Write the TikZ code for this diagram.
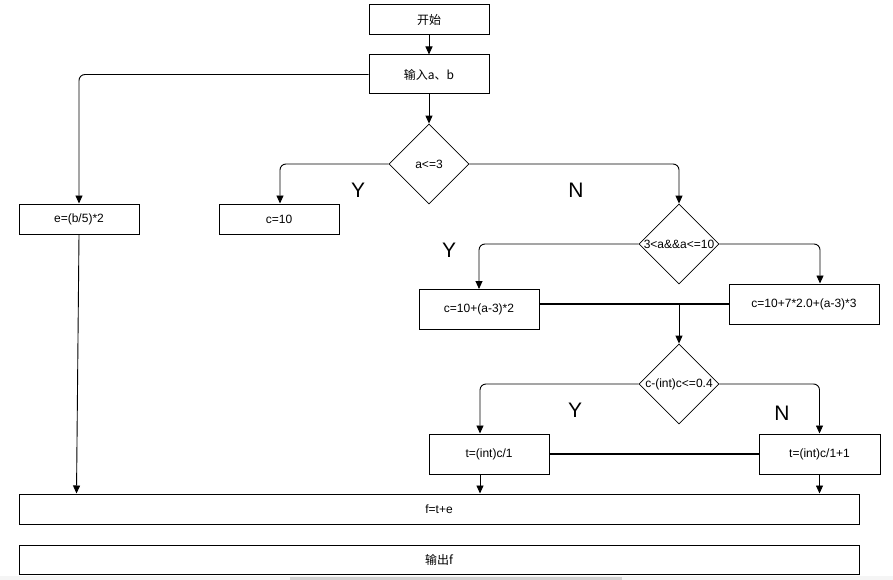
\documentclass[tikz,border=0pt]{standalone}
\usepackage{fontspec}
\setmainfont{Liberation Sans}
\newfontfamily\cjk{Noto Sans CJK SC}
\usetikzlibrary{shapes.geometric,arrows.meta}
\begin{document}
\begin{tikzpicture}[x=1pt,y=-1pt,
  box/.style={draw,line width=1pt,rectangle,inner sep=0pt,font=\fontsize{12}{14}\selectfont},
  dia/.style={draw,line width=0.8pt,diamond,inner sep=0pt,minimum width=80pt,minimum height=80pt},
  dtext/.style={font=\fontsize{12}{14}\selectfont,inner sep=0pt},
  arr/.style={draw,line width=0.9pt,-{Triangle[width=7pt,length=8pt]}},
  conn/.style={draw,line width=0.9pt,rounded corners=6pt,-{Triangle[width=7pt,length=8pt]}},
  thick line/.style={draw,line width=2pt},
  yn/.style={font=\fontsize{21}{23}\selectfont,inner sep=0pt}]
\useasboundingbox (0,0) rectangle (893,580);
\fill[gray!8] (0,576) rectangle (893,580);
\fill[gray!35] (290,577) rectangle (622,580);
% nodes
\node[box,minimum width=120pt,minimum height=30pt] (start) at (429,20) {\cjk 开始};
\node[box,minimum width=120pt,minimum height=39pt] (input) at (429,74.5) {\cjk 输入a、b};
\node[dia] (d1) at (429,164) {};
\node[dtext] (t1lbl) at (d1) {a<=3};
\node[box,minimum width=120pt,minimum height=30pt] (e) at (79,219) {e=(b/5)*2};
\node[box,minimum width=120pt,minimum height=30pt] (c10) at (279,219) {c=10};
\node[dia] (d2) at (679,244) {};
\node[dtext] (t2lbl) at (d2) {3<a\&\&a<=10};
\node[box,minimum width=120pt,minimum height=40pt] (ca) at (479,309.5) {c=10+(a-3)*2};
\node[box,minimum width=150pt,minimum height=40pt] (cb) at (804,304) {c=10+7*2.0+(a-3)*3};
\node[dia] (d3) at (679,384) {};
\node[dtext] (t3lbl) at (d3) {c-(int)c<=0.4};
\node[box,minimum width=120pt,minimum height=40pt] (ta) at (489,454) {t=(int)c/1};
\node[box,minimum width=121pt,minimum height=40pt] (tb) at (819.5,454) {t=(int)c/1+1};
\node[box,minimum width=840pt,minimum height=30pt] (f) at (439,509) {f=t+e};
\node[box,minimum width=840pt,minimum height=29pt] (out) at (439,559.5) {\cjk 输出f};
% labels
\node[yn] (y1) at (358,190) {Y};
\node[yn] (n1) at (576,190) {N};
\node[yn] (y2) at (449,250) {Y};
\node[yn] (y3) at (575,410) {Y};
\node[yn] (n3) at (782,413) {N};
% connectors
\draw[arr] (start) -- (input);
\draw[conn] (input.west) -| (e.north);
\draw[arr] (input) -- (d1.north);
\draw[conn] (d1.west) -| ([xshift=1pt]c10.north);
\draw[conn] (d1.east) -| (d2.north);
\draw[conn] (d2.west) -| (ca.north);
\draw[conn] (d2.east) -| ([xshift=16pt]cb.north);
\draw[thick line] (cb.west) -- (cb.west -| ca.east);
\coordinate (j1) at (d3.north |- cb.west);
\draw[arr] (j1) -- (d3.north);
\draw[conn] (d3.west) -| ([xshift=-9pt]ta.north);
\draw[conn] (d3.east) -| (tb.north);
\draw[thick line] (ta.east) -- (tb.west);
\coordinate (fa) at ([xshift=-9pt]ta.south);
\draw[arr] (fa) -- (fa |- f.north);
\draw[arr] (tb.south) -- (tb.south |- f.north);
\coordinate (fe) at ([xshift=58pt]f.north west);
\draw[arr] (e.south) -- (fe);
\end{tikzpicture}
\end{document}
